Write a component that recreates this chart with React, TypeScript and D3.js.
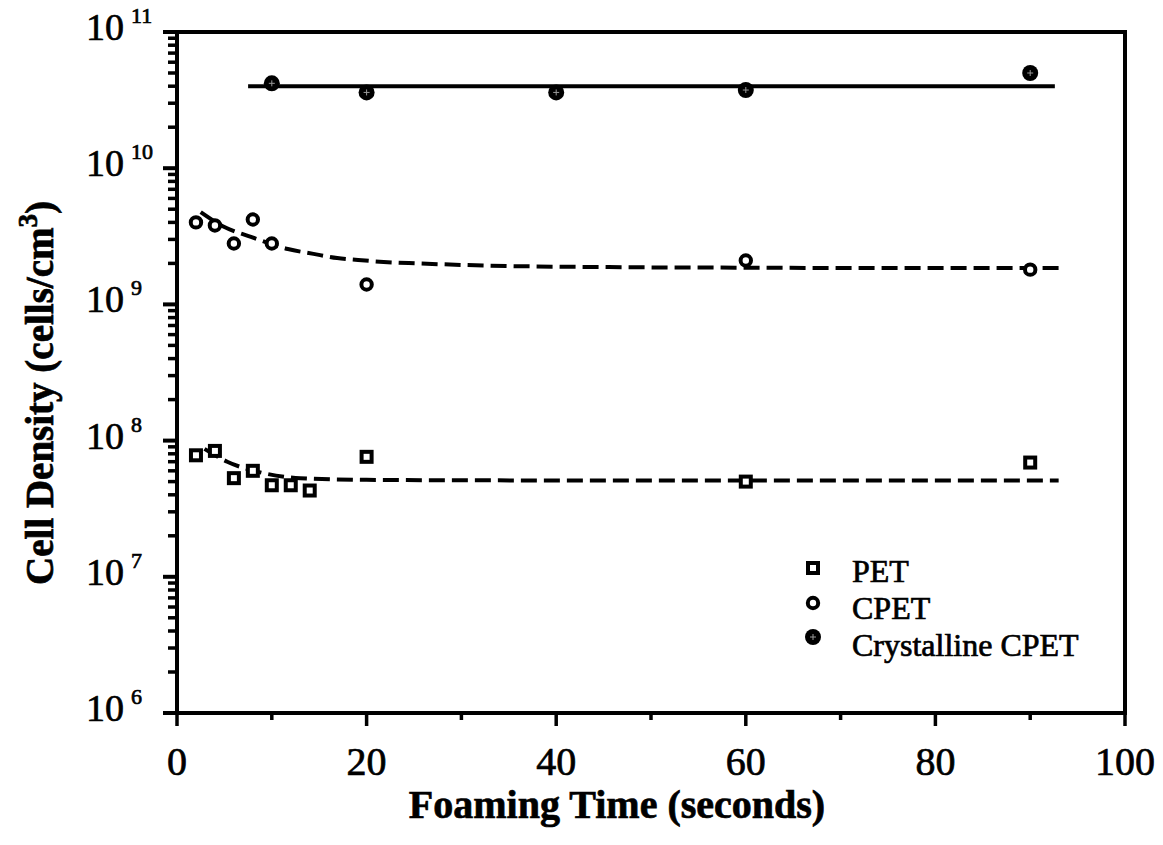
import React from 'react';
import * as d3 from 'd3';

// Measured cell densities (cells/cm^3) against foaming time (s)
const petTime = [2, 4, 6, 8, 10, 12, 14, 20, 60, 90];
const petDensity = [7.8e7, 8.4e7, 5.3e7, 6.0e7, 4.7e7, 4.7e7, 4.3e7, 7.6e7, 5.0e7, 6.9e7];

const cpetTime = [2, 4, 6, 8, 10, 20, 60, 90];
const cpetDensity = [4.0e9, 3.8e9, 2.8e9, 4.2e9, 2.8e9, 1.4e9, 2.1e9, 1.8e9];

const crystTime = [10, 20, 40, 60, 90];
const crystDensity = [4.2e10, 3.6e10, 3.6e10, 3.75e10, 5.0e10];

// Trend curves drawn through each series
const petFitTime = [2.9, 5.3, 9, 13, 20, 40, 60, 93];
const petFitDensity = [8.7e7, 7.0e7, 5.8e7, 5.3e7, 5.15e7, 5.1e7, 5.1e7, 5.1e7];

const cpetFitTime = [2.5, 5, 7.8, 11.7, 14.4, 16.9, 19.1, 21.8, 25.4, 32.3, 45, 60, 75, 93];
const cpetFitDensity = [4.76e9, 3.7e9, 3.13e9, 2.55e9, 2.35e9, 2.19e9, 2.12e9, 2.05e9, 2.0e9, 1.93e9, 1.88e9, 1.86e9, 1.85e9, 1.85e9];

const crystFitTime = [7.5, 92.6];
const crystFitDensity = [4.0e10, 4.0e10];

// Axis ticks
const xMajorTicks = [0, 20, 40, 60, 80, 100];
const xMinorTicks = [10, 30, 50, 70, 90];
const yExponents = [6, 7, 8, 9, 10, 11];

const legendLabels = ['PET', 'CPET', 'Crystalline CPET'];

const W = 1163;
const H = 845;
const left = 177;
const right = 1125;
const top = 32;
const bottom = 713;

const x = d3.scaleLinear().domain([0, 100]).range([left, right]);
const y = d3.scaleLog().domain([1e6, 1e11]).range([bottom, top]);

const serif = '"Liberation Serif", "Times New Roman", Times, serif';
const ink = '#000';
// slight outline gives the printed, heavy look of the type
const heavy = { stroke: ink, strokeWidth: 0.7 };

const fitLine = d3
  .line<[number, number]>()
  .x((d) => x(d[0]))
  .y((d) => y(d[1]))
  .curve(d3.curveMonotoneX);

const zip = (a: number[], b: number[]): [number, number][] => a.map((v, i) => [v, b[i]]);

function OpenSquare({ cx, cy }: { cx: number; cy: number }) {
  const s = 10;
  return <rect x={cx - s / 2} y={cy - s / 2} width={s} height={s} fill="#fff" stroke={ink} strokeWidth={4} />;
}

function OpenCircle({ cx, cy }: { cx: number; cy: number }) {
  return <circle cx={cx} cy={cy} r={5.2} fill="#fff" stroke={ink} strokeWidth={4} />;
}

function FilledCircle({ cx, cy }: { cx: number; cy: number }) {
  return (
    <g>
      <circle cx={cx} cy={cy} r={8} fill={ink} />
      <path d={`M${cx - 3},${cy}H${cx + 3}M${cx},${cy - 3}V${cy + 3}`} stroke="#fff" strokeWidth={1} opacity={0.6} />
    </g>
  );
}

export default function App() {
  const minorY: number[] = [];
  for (let e = 6; e < 11; e++) {
    for (let m = 2; m <= 9; m++) minorY.push(m * Math.pow(10, e));
  }

  return (
    <svg
      width={W}
      height={H}
      viewBox={`0 0 ${W} ${H}`}
      style={{ position: 'absolute', left: 0, top: 0, background: '#fff' }}
    >
      {/* frame */}
      <rect x={left} y={top} width={right - left} height={bottom - top} fill="none" stroke={ink} strokeWidth={4} />

      {/* y ticks */}
      {minorY.map((v, i) => (
        <line key={`ym${i}`} x1={left - 9} x2={left} y1={y(v)} y2={y(v)} stroke={ink} strokeWidth={3.5} />
      ))}
      {yExponents.map((e) => (
        <line key={`yM${e}`} x1={left - 14} x2={left} y1={y(Math.pow(10, e))} y2={y(Math.pow(10, e))} stroke={ink} strokeWidth={4} />
      ))}
      {yExponents.map((e) => (
        <text key={`yl${e}`} x={86} y={y(Math.pow(10, e)) + 8} fontFamily={serif} fontSize={38} fill={ink} {...heavy}>
          10
          <tspan dx={7} dy={-17} fontSize={22}>
            {e}
          </tspan>
        </text>
      ))}

      {/* x ticks */}
      {xMinorTicks.map((t) => (
        <line key={`xm${t}`} x1={x(t)} x2={x(t)} y1={bottom} y2={bottom + 7} stroke={ink} strokeWidth={3.5} />
      ))}
      {xMajorTicks.map((t) => (
        <line key={`xM${t}`} x1={x(t)} x2={x(t)} y1={bottom} y2={bottom + 13} stroke={ink} strokeWidth={3.5} />
      ))}
      {xMajorTicks.map((t) => (
        <text key={`xl${t}`} x={x(t)} y={775} textAnchor="middle" fontFamily={serif} fontSize={40} fill={ink} {...heavy}>
          {t}
        </text>
      ))}

      {/* axis titles */}
      <text x={617} y={818} textAnchor="middle" fontFamily={serif} fontWeight="bold" fontSize={40} fill={ink} {...heavy}>
        Foaming Time (seconds)
      </text>
      <text
        transform="translate(53,393) rotate(-90)"
        textAnchor="middle"
        fontFamily={serif}
        fontWeight="bold"
        fontSize={39}
        fill={ink}
        {...heavy}
      >
        Cell Density (cells/cm
        <tspan dy={-16} fontSize={27}>3</tspan>
        <tspan dy={16}>)</tspan>
      </text>

      {/* trend lines */}
      <path d={fitLine(zip(crystFitTime, crystFitDensity)) || ''} fill="none" stroke={ink} strokeWidth={4} />
      <path d={fitLine(zip(cpetFitTime, cpetFitDensity)) || ''} fill="none" stroke={ink} strokeWidth={4} strokeDasharray="16 7" />
      <path d={fitLine(zip(petFitTime, petFitDensity)) || ''} fill="none" stroke={ink} strokeWidth={4} strokeDasharray="16 7" />

      {/* data points */}
      {petTime.map((t, i) => (
        <OpenSquare key={`p${i}`} cx={x(t)} cy={y(petDensity[i])} />
      ))}
      {cpetTime.map((t, i) => (
        <OpenCircle key={`c${i}`} cx={x(t)} cy={y(cpetDensity[i])} />
      ))}
      {crystTime.map((t, i) => (
        <FilledCircle key={`k${i}`} cx={x(t)} cy={y(crystDensity[i])} />
      ))}

      {/* legend */}
      <OpenSquare cx={813} cy={568} />
      <OpenCircle cx={813} cy={603} />
      <FilledCircle cx={813} cy={637} />
      {legendLabels.map((label, i) => (
        <text key={label} x={852} y={582 + i * 37} fontFamily={serif} fontSize={32} fill={ink} {...heavy}>
          {label}
        </text>
      ))}
    </svg>
  );
}
